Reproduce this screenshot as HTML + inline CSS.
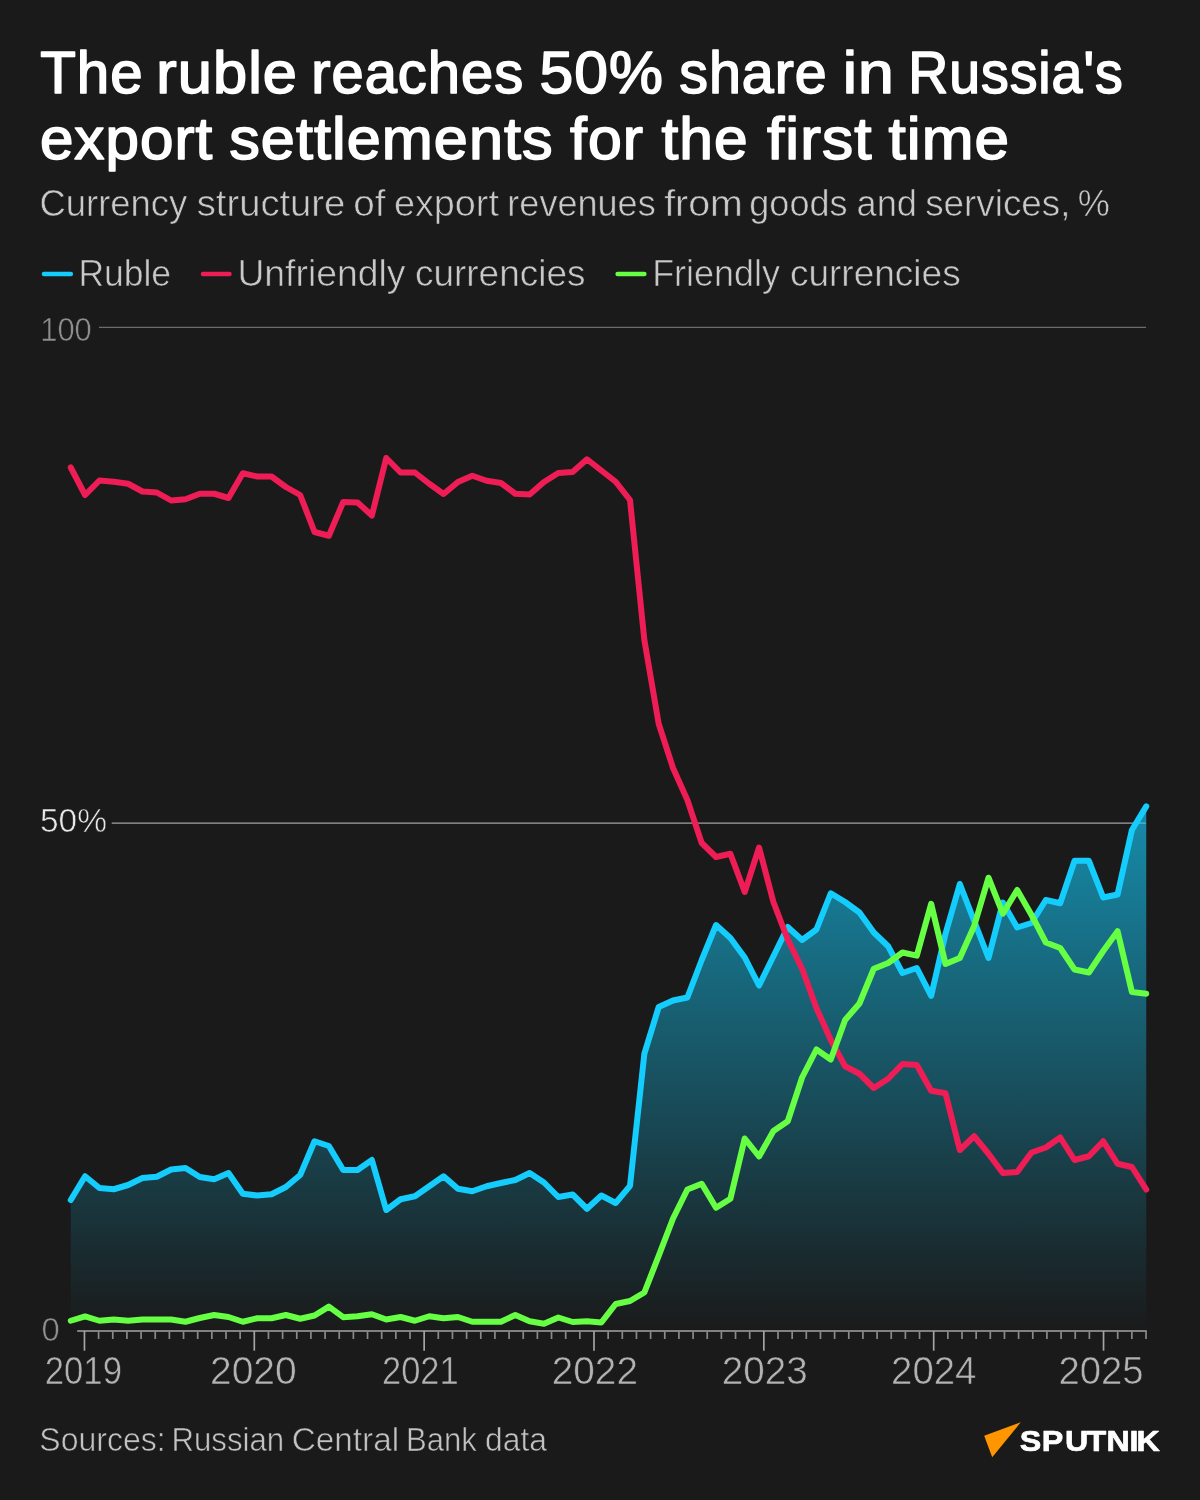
<!DOCTYPE html>
<html lang="en"><head><meta charset="utf-8"><title>The ruble reaches 50% share in Russia's export settlements</title>
<style>
html,body{margin:0;padding:0;background:#1a1a1a;}
body{width:1200px;height:1500px;overflow:hidden;font-family:"Liberation Sans",sans-serif;}
svg{display:block}
text{font-family:"Liberation Sans",sans-serif;}
.ln{fill:none;stroke-width:6;stroke-linejoin:round;stroke-linecap:round}
</style></head><body>
<svg width="1200" height="1500" viewBox="0 0 1200 1500">
<defs>
<linearGradient id="g" gradientUnits="userSpaceOnUse" x1="0" y1="805" x2="0" y2="1331">
<stop offset="0" stop-color="#14cdfd" stop-opacity="0.64"/>
<stop offset="1" stop-color="#14cdfd" stop-opacity="0"/>
</linearGradient>
</defs>
<rect width="1200" height="1500" fill="#1a1a1a"/>
<g stroke-width="4.5" stroke-linecap="round">
<line x1="44" y1="274" x2="70.8" y2="274" stroke="#14cdfd"/>
<line x1="203" y1="274" x2="229.5" y2="274" stroke="#ee1d56"/>
<line x1="617.6" y1="274" x2="644.4" y2="274" stroke="#66ff44"/>
</g>
<line x1="99" y1="327.4" x2="1146" y2="327.4" stroke="#6c6c6c" stroke-width="1.2"/>
<line x1="111.7" y1="823.15" x2="1146" y2="823.15" stroke="#a2a2a2" stroke-width="1.4"/>
<path d="M70.75,1200.00 L85.09,1176.25 L99.43,1188.00 L113.77,1189.25 L128.11,1185.00 L142.45,1178.00 L156.79,1176.75 L171.13,1169.50 L185.47,1168.00 L199.81,1177.00 L214.15,1179.25 L228.49,1173.00 L242.83,1193.75 L257.17,1195.50 L271.51,1194.25 L285.85,1187.00 L300.19,1175.00 L314.53,1141.25 L328.87,1146.00 L343.21,1170.00 L357.55,1170.00 L371.89,1160.00 L386.23,1210.00 L400.57,1199.25 L414.91,1196.25 L429.25,1186.25 L443.59,1176.25 L457.93,1188.75 L472.27,1191.25 L486.61,1186.25 L500.95,1183.00 L515.29,1180.00 L529.63,1173.00 L543.97,1182.50 L558.31,1197.00 L572.65,1194.50 L586.99,1208.75 L601.33,1195.50 L615.67,1203.00 L630.01,1185.80 L644.35,1053.75 L658.69,1007.00 L673.03,1000.50 L687.37,997.50 L701.71,960.00 L716.05,925.00 L730.39,938.00 L744.73,957.50 L759.07,985.50 L773.41,956.25 L787.75,927.00 L802.09,940.00 L816.43,929.50 L830.77,893.25 L845.11,902.00 L859.45,912.50 L873.79,932.50 L888.13,946.25 L902.47,973.00 L916.81,968.00 L931.15,995.90 L945.49,933.75 L959.83,884.00 L974.17,921.00 L988.51,958.00 L1002.85,902.60 L1017.19,927.50 L1031.53,923.00 L1045.87,900.00 L1060.21,903.25 L1074.55,860.80 L1088.89,860.80 L1103.23,897.50 L1117.57,894.50 L1131.91,830.00 L1146.25,806.40 L1146.25,1331 L70.75,1331 Z" fill="url(#g)"/>
<polyline class="ln" stroke="#14cdfd" points="70.75,1200.00 85.09,1176.25 99.43,1188.00 113.77,1189.25 128.11,1185.00 142.45,1178.00 156.79,1176.75 171.13,1169.50 185.47,1168.00 199.81,1177.00 214.15,1179.25 228.49,1173.00 242.83,1193.75 257.17,1195.50 271.51,1194.25 285.85,1187.00 300.19,1175.00 314.53,1141.25 328.87,1146.00 343.21,1170.00 357.55,1170.00 371.89,1160.00 386.23,1210.00 400.57,1199.25 414.91,1196.25 429.25,1186.25 443.59,1176.25 457.93,1188.75 472.27,1191.25 486.61,1186.25 500.95,1183.00 515.29,1180.00 529.63,1173.00 543.97,1182.50 558.31,1197.00 572.65,1194.50 586.99,1208.75 601.33,1195.50 615.67,1203.00 630.01,1185.80 644.35,1053.75 658.69,1007.00 673.03,1000.50 687.37,997.50 701.71,960.00 716.05,925.00 730.39,938.00 744.73,957.50 759.07,985.50 773.41,956.25 787.75,927.00 802.09,940.00 816.43,929.50 830.77,893.25 845.11,902.00 859.45,912.50 873.79,932.50 888.13,946.25 902.47,973.00 916.81,968.00 931.15,995.90 945.49,933.75 959.83,884.00 974.17,921.00 988.51,958.00 1002.85,902.60 1017.19,927.50 1031.53,923.00 1045.87,900.00 1060.21,903.25 1074.55,860.80 1088.89,860.80 1103.23,897.50 1117.57,894.50 1131.91,830.00 1146.25,806.40"/>
<polyline class="ln" stroke="#ee1d56" points="70.75,467.50 85.09,495.00 99.43,480.50 113.77,481.75 128.11,483.75 142.45,491.50 156.79,492.50 171.13,500.50 185.47,499.25 199.81,493.75 214.15,493.75 228.49,498.00 242.83,473.25 257.17,476.50 271.51,476.50 285.85,487.00 300.19,495.00 314.53,532.00 328.87,535.75 343.21,502.00 357.55,502.50 371.89,515.50 386.23,458.00 400.57,472.50 414.91,472.50 429.25,483.75 443.59,494.00 457.93,482.00 472.27,475.75 486.61,480.75 500.95,483.00 515.29,493.75 529.63,494.50 543.97,482.00 558.31,473.00 572.65,472.00 586.99,459.25 601.33,470.50 615.67,481.75 630.01,500.00 644.35,640.00 658.69,723.75 673.03,768.00 687.37,800.00 701.71,843.00 716.05,857.00 730.39,853.75 744.73,892.00 759.07,847.50 773.41,902.00 787.75,939.50 802.09,968.75 816.43,1008.00 830.77,1040.00 845.11,1066.25 859.45,1073.75 873.79,1088.00 888.13,1078.75 902.47,1064.00 916.81,1065.00 931.15,1090.75 945.49,1093.25 959.83,1150.00 974.17,1136.25 988.51,1153.75 1002.85,1173.00 1017.19,1172.00 1031.53,1152.50 1045.87,1147.50 1060.21,1137.50 1074.55,1160.00 1088.89,1156.25 1103.23,1141.25 1117.57,1163.75 1131.91,1167.00 1146.25,1189.50"/>
<polyline class="ln" stroke="#66ff44" points="70.75,1320.75 85.09,1316.40 99.43,1320.75 113.77,1319.50 128.11,1320.75 142.45,1319.50 156.79,1319.50 171.13,1319.50 185.47,1321.75 199.81,1318.00 214.15,1315.00 228.49,1317.00 242.83,1321.75 257.17,1318.25 271.51,1318.25 285.85,1315.00 300.19,1318.75 314.53,1315.50 328.87,1306.60 343.21,1317.20 357.55,1316.25 371.89,1314.25 386.23,1319.50 400.57,1317.00 414.91,1320.75 429.25,1316.25 443.59,1318.25 457.93,1317.00 472.27,1321.75 486.61,1321.75 500.95,1321.75 515.29,1315.00 529.63,1321.25 543.97,1323.75 558.31,1317.50 572.65,1322.00 586.99,1321.25 601.33,1322.50 615.67,1304.00 630.01,1301.00 644.35,1292.50 658.69,1255.80 673.03,1218.50 687.37,1189.50 701.71,1183.70 716.05,1207.70 730.39,1198.70 744.73,1138.50 759.07,1156.50 773.41,1131.00 787.75,1121.25 802.09,1077.50 816.43,1049.50 830.77,1059.50 845.11,1020.00 859.45,1003.50 873.79,968.75 888.13,963.00 902.47,952.50 916.81,955.60 931.15,903.80 945.49,964.00 959.83,958.00 974.17,926.00 988.51,877.70 1002.85,913.75 1017.19,890.00 1031.53,915.00 1045.87,942.50 1060.21,948.00 1074.55,969.50 1088.89,972.50 1103.23,951.00 1117.57,931.20 1131.91,992.00 1146.25,993.75"/>
<g stroke="#a4a4a4" stroke-width="1.7">
<line x1="77.2" y1="1331" x2="1146.8" y2="1331"/>
<line x1="84.45" y1="1331" x2="84.45" y2="1350.7"/><line x1="98.60" y1="1331" x2="98.60" y2="1339" stroke="#8a8a8a"/><line x1="112.76" y1="1331" x2="112.76" y2="1339" stroke="#8a8a8a"/><line x1="126.91" y1="1331" x2="126.91" y2="1339" stroke="#8a8a8a"/><line x1="141.07" y1="1331" x2="141.07" y2="1339" stroke="#8a8a8a"/><line x1="155.22" y1="1331" x2="155.22" y2="1339" stroke="#8a8a8a"/><line x1="169.37" y1="1331" x2="169.37" y2="1339" stroke="#8a8a8a"/><line x1="183.53" y1="1331" x2="183.53" y2="1339" stroke="#8a8a8a"/><line x1="197.68" y1="1331" x2="197.68" y2="1339" stroke="#8a8a8a"/><line x1="211.84" y1="1331" x2="211.84" y2="1339" stroke="#8a8a8a"/><line x1="225.99" y1="1331" x2="225.99" y2="1339" stroke="#8a8a8a"/><line x1="240.14" y1="1331" x2="240.14" y2="1339" stroke="#8a8a8a"/><line x1="254.30" y1="1331" x2="254.30" y2="1350.7"/><line x1="268.45" y1="1331" x2="268.45" y2="1339" stroke="#8a8a8a"/><line x1="282.61" y1="1331" x2="282.61" y2="1339" stroke="#8a8a8a"/><line x1="296.76" y1="1331" x2="296.76" y2="1339" stroke="#8a8a8a"/><line x1="310.91" y1="1331" x2="310.91" y2="1339" stroke="#8a8a8a"/><line x1="325.07" y1="1331" x2="325.07" y2="1339" stroke="#8a8a8a"/><line x1="339.22" y1="1331" x2="339.22" y2="1339" stroke="#8a8a8a"/><line x1="353.38" y1="1331" x2="353.38" y2="1339" stroke="#8a8a8a"/><line x1="367.53" y1="1331" x2="367.53" y2="1339" stroke="#8a8a8a"/><line x1="381.68" y1="1331" x2="381.68" y2="1339" stroke="#8a8a8a"/><line x1="395.84" y1="1331" x2="395.84" y2="1339" stroke="#8a8a8a"/><line x1="409.99" y1="1331" x2="409.99" y2="1339" stroke="#8a8a8a"/><line x1="424.15" y1="1331" x2="424.15" y2="1350.7"/><line x1="438.30" y1="1331" x2="438.30" y2="1339" stroke="#8a8a8a"/><line x1="452.45" y1="1331" x2="452.45" y2="1339" stroke="#8a8a8a"/><line x1="466.61" y1="1331" x2="466.61" y2="1339" stroke="#8a8a8a"/><line x1="480.76" y1="1331" x2="480.76" y2="1339" stroke="#8a8a8a"/><line x1="494.92" y1="1331" x2="494.92" y2="1339" stroke="#8a8a8a"/><line x1="509.07" y1="1331" x2="509.07" y2="1339" stroke="#8a8a8a"/><line x1="523.22" y1="1331" x2="523.22" y2="1339" stroke="#8a8a8a"/><line x1="537.38" y1="1331" x2="537.38" y2="1339" stroke="#8a8a8a"/><line x1="551.53" y1="1331" x2="551.53" y2="1339" stroke="#8a8a8a"/><line x1="565.69" y1="1331" x2="565.69" y2="1339" stroke="#8a8a8a"/><line x1="579.84" y1="1331" x2="579.84" y2="1339" stroke="#8a8a8a"/><line x1="593.99" y1="1331" x2="593.99" y2="1350.7"/><line x1="608.15" y1="1331" x2="608.15" y2="1339" stroke="#8a8a8a"/><line x1="622.30" y1="1331" x2="622.30" y2="1339" stroke="#8a8a8a"/><line x1="636.46" y1="1331" x2="636.46" y2="1339" stroke="#8a8a8a"/><line x1="650.61" y1="1331" x2="650.61" y2="1339" stroke="#8a8a8a"/><line x1="664.76" y1="1331" x2="664.76" y2="1339" stroke="#8a8a8a"/><line x1="678.92" y1="1331" x2="678.92" y2="1339" stroke="#8a8a8a"/><line x1="693.07" y1="1331" x2="693.07" y2="1339" stroke="#8a8a8a"/><line x1="707.23" y1="1331" x2="707.23" y2="1339" stroke="#8a8a8a"/><line x1="721.38" y1="1331" x2="721.38" y2="1339" stroke="#8a8a8a"/><line x1="735.53" y1="1331" x2="735.53" y2="1339" stroke="#8a8a8a"/><line x1="749.69" y1="1331" x2="749.69" y2="1339" stroke="#8a8a8a"/><line x1="763.84" y1="1331" x2="763.84" y2="1350.7"/><line x1="778.00" y1="1331" x2="778.00" y2="1339" stroke="#8a8a8a"/><line x1="792.15" y1="1331" x2="792.15" y2="1339" stroke="#8a8a8a"/><line x1="806.30" y1="1331" x2="806.30" y2="1339" stroke="#8a8a8a"/><line x1="820.46" y1="1331" x2="820.46" y2="1339" stroke="#8a8a8a"/><line x1="834.61" y1="1331" x2="834.61" y2="1339" stroke="#8a8a8a"/><line x1="848.77" y1="1331" x2="848.77" y2="1339" stroke="#8a8a8a"/><line x1="862.92" y1="1331" x2="862.92" y2="1339" stroke="#8a8a8a"/><line x1="877.07" y1="1331" x2="877.07" y2="1339" stroke="#8a8a8a"/><line x1="891.23" y1="1331" x2="891.23" y2="1339" stroke="#8a8a8a"/><line x1="905.38" y1="1331" x2="905.38" y2="1339" stroke="#8a8a8a"/><line x1="919.54" y1="1331" x2="919.54" y2="1339" stroke="#8a8a8a"/><line x1="933.69" y1="1331" x2="933.69" y2="1350.7"/><line x1="947.84" y1="1331" x2="947.84" y2="1339" stroke="#8a8a8a"/><line x1="962.00" y1="1331" x2="962.00" y2="1339" stroke="#8a8a8a"/><line x1="976.15" y1="1331" x2="976.15" y2="1339" stroke="#8a8a8a"/><line x1="990.31" y1="1331" x2="990.31" y2="1339" stroke="#8a8a8a"/><line x1="1004.46" y1="1331" x2="1004.46" y2="1339" stroke="#8a8a8a"/><line x1="1018.61" y1="1331" x2="1018.61" y2="1339" stroke="#8a8a8a"/><line x1="1032.77" y1="1331" x2="1032.77" y2="1339" stroke="#8a8a8a"/><line x1="1046.92" y1="1331" x2="1046.92" y2="1339" stroke="#8a8a8a"/><line x1="1061.08" y1="1331" x2="1061.08" y2="1339" stroke="#8a8a8a"/><line x1="1075.23" y1="1331" x2="1075.23" y2="1339" stroke="#8a8a8a"/><line x1="1089.38" y1="1331" x2="1089.38" y2="1339" stroke="#8a8a8a"/><line x1="1103.54" y1="1331" x2="1103.54" y2="1350.7"/><line x1="1117.69" y1="1331" x2="1117.69" y2="1339" stroke="#8a8a8a"/><line x1="1131.85" y1="1331" x2="1131.85" y2="1339" stroke="#8a8a8a"/><line x1="1146.00" y1="1331" x2="1146.00" y2="1339" stroke="#8a8a8a"/>
</g>
<text x="40.2" y="93.2" font-size="58.5" fill="#fff" textLength="103.4" lengthAdjust="spacingAndGlyphs" stroke="#fff" stroke-width="1.6" stroke-linejoin="round" letter-spacing="1.0">The</text>
<text x="156.35" y="93.2" font-size="58.5" fill="#fff" textLength="141.63" lengthAdjust="spacingAndGlyphs" stroke="#fff" stroke-width="1.6" stroke-linejoin="round" letter-spacing="1.0">ruble</text>
<text x="311.23" y="93.2" font-size="58.5" fill="#fff" textLength="212.92" lengthAdjust="spacingAndGlyphs" stroke="#fff" stroke-width="1.6" stroke-linejoin="round" letter-spacing="1.0">reaches</text>
<text x="539.45" y="93.2" font-size="58.5" fill="#fff" textLength="124.48" lengthAdjust="spacingAndGlyphs" stroke="#fff" stroke-width="1.6" stroke-linejoin="round" letter-spacing="1.0">50%</text>
<text x="679.26" y="93.2" font-size="58.5" fill="#fff" textLength="148.53" lengthAdjust="spacingAndGlyphs" stroke="#fff" stroke-width="1.6" stroke-linejoin="round" letter-spacing="1.0">share</text>
<text x="842.7" y="93.2" font-size="58.5" fill="#fff" textLength="52.24" lengthAdjust="spacingAndGlyphs" stroke="#fff" stroke-width="1.6" stroke-linejoin="round" letter-spacing="1.0">in</text>
<text x="908.21" y="93.2" font-size="58.5" fill="#fff" textLength="215.41" lengthAdjust="spacingAndGlyphs" stroke="#fff" stroke-width="1.6" stroke-linejoin="round" letter-spacing="1.0">Russia's</text>
<text x="39.9" y="159.2" font-size="58.5" fill="#fff" textLength="173.31" lengthAdjust="spacingAndGlyphs" stroke="#fff" stroke-width="1.6" stroke-linejoin="round" letter-spacing="1.0">export</text>
<text x="229.22" y="159.2" font-size="58.5" fill="#fff" textLength="324.49" lengthAdjust="spacingAndGlyphs" stroke="#fff" stroke-width="1.6" stroke-linejoin="round" letter-spacing="1.0">settlements</text>
<text x="570" y="159.2" font-size="58.5" fill="#fff" textLength="74.07" lengthAdjust="spacingAndGlyphs" stroke="#fff" stroke-width="1.6" stroke-linejoin="round" letter-spacing="1.0">for</text>
<text x="661.5" y="159.2" font-size="58.5" fill="#fff" textLength="87.23" lengthAdjust="spacingAndGlyphs" stroke="#fff" stroke-width="1.6" stroke-linejoin="round" letter-spacing="1.0">the</text>
<text x="767" y="159.2" font-size="58.5" fill="#fff" textLength="105.52" lengthAdjust="spacingAndGlyphs" stroke="#fff" stroke-width="1.6" stroke-linejoin="round" letter-spacing="1.0">first</text>
<text x="888.5" y="159.2" font-size="58.5" fill="#fff" textLength="121.65" lengthAdjust="spacingAndGlyphs" stroke="#fff" stroke-width="1.6" stroke-linejoin="round" letter-spacing="1.0">time</text>
<text x="39.48" y="216.4" font-size="37" fill="#c8c8c8" textLength="147.82" lengthAdjust="spacingAndGlyphs" stroke="#1a1a1a" stroke-width="0.6">Currency</text>
<text x="196.75" y="216.4" font-size="37" fill="#c8c8c8" textLength="148.55" lengthAdjust="spacingAndGlyphs" stroke="#1a1a1a" stroke-width="0.6">structure</text>
<text x="353.17" y="216.4" font-size="37" fill="#c8c8c8" textLength="32.2" lengthAdjust="spacingAndGlyphs" stroke="#1a1a1a" stroke-width="0.6">of</text>
<text x="393.91" y="216.4" font-size="37" fill="#c8c8c8" textLength="104.99" lengthAdjust="spacingAndGlyphs" stroke="#1a1a1a" stroke-width="0.6">export</text>
<text x="507.32" y="216.4" font-size="37" fill="#c8c8c8" textLength="148.36" lengthAdjust="spacingAndGlyphs" stroke="#1a1a1a" stroke-width="0.6">revenues</text>
<text x="664.2" y="216.4" font-size="37" fill="#c8c8c8" textLength="78.72" lengthAdjust="spacingAndGlyphs" stroke="#1a1a1a" stroke-width="0.6">from</text>
<text x="749.29" y="216.4" font-size="37" fill="#c8c8c8" textLength="98.23" lengthAdjust="spacingAndGlyphs" stroke="#1a1a1a" stroke-width="0.6">goods</text>
<text x="856.59" y="216.4" font-size="37" fill="#c8c8c8" textLength="60.39" lengthAdjust="spacingAndGlyphs" stroke="#1a1a1a" stroke-width="0.6">and</text>
<text x="925.21" y="216.4" font-size="37" fill="#c8c8c8" textLength="145.21" lengthAdjust="spacingAndGlyphs" stroke="#1a1a1a" stroke-width="0.6">services,</text>
<text x="1077.84" y="216.4" font-size="37" fill="#c8c8c8" textLength="32.08" lengthAdjust="spacingAndGlyphs" stroke="#1a1a1a" stroke-width="0.6">%</text>
<text x="78.38" y="286.4" font-size="37" fill="#c8c8c8" textLength="92.67" lengthAdjust="spacingAndGlyphs" stroke="#1a1a1a" stroke-width="0.6">Ruble</text>
<text x="237.42" y="286.4" font-size="37" fill="#c8c8c8" textLength="167.96" lengthAdjust="spacingAndGlyphs" stroke="#1a1a1a" stroke-width="0.6">Unfriendly</text>
<text x="415" y="286.4" font-size="37" fill="#c8c8c8" textLength="170.43" lengthAdjust="spacingAndGlyphs" stroke="#1a1a1a" stroke-width="0.6">currencies</text>
<text x="652.15" y="286.4" font-size="37" fill="#c8c8c8" textLength="127.75" lengthAdjust="spacingAndGlyphs" stroke="#1a1a1a" stroke-width="0.6">Friendly</text>
<text x="789.95" y="286.4" font-size="37" fill="#c8c8c8" textLength="170.74" lengthAdjust="spacingAndGlyphs" stroke="#1a1a1a" stroke-width="0.6">currencies</text>
<text x="40.18" y="341.3" font-size="33.8" fill="#8e8e8e" textLength="51.62" lengthAdjust="spacingAndGlyphs" stroke="#1a1a1a" stroke-width="0.6">100</text>
<text x="39.97" y="832.2" font-size="33.8" fill="#e8e8e8" textLength="66.97" lengthAdjust="spacingAndGlyphs" stroke="#1a1a1a" stroke-width="0.6">50%</text>
<text x="41.54" y="1341.3" font-size="33.8" fill="#8e8e8e" textLength="18.26" lengthAdjust="spacingAndGlyphs" stroke="#1a1a1a" stroke-width="0.6">0</text>
<text x="44.65" y="1383.8" font-size="38.2" fill="#b2b2b2" textLength="77.35" lengthAdjust="spacingAndGlyphs" stroke="#1a1a1a" stroke-width="0.6">2019</text>
<text x="210" y="1383.8" font-size="38.2" fill="#b2b2b2" textLength="86.74" lengthAdjust="spacingAndGlyphs" stroke="#1a1a1a" stroke-width="0.6">2020</text>
<text x="381.97" y="1383.8" font-size="38.2" fill="#b2b2b2" textLength="76.72" lengthAdjust="spacingAndGlyphs" stroke="#1a1a1a" stroke-width="0.6">2021</text>
<text x="551.72" y="1383.8" font-size="38.2" fill="#b2b2b2" textLength="86.22" lengthAdjust="spacingAndGlyphs" stroke="#1a1a1a" stroke-width="0.6">2022</text>
<text x="721.72" y="1383.8" font-size="38.2" fill="#b2b2b2" textLength="85.95" lengthAdjust="spacingAndGlyphs" stroke="#1a1a1a" stroke-width="0.6">2023</text>
<text x="891.04" y="1383.8" font-size="38.2" fill="#b2b2b2" textLength="85.42" lengthAdjust="spacingAndGlyphs" stroke="#1a1a1a" stroke-width="0.6">2024</text>
<text x="1058.44" y="1383.8" font-size="38.2" fill="#b2b2b2" textLength="85.22" lengthAdjust="spacingAndGlyphs" stroke="#1a1a1a" stroke-width="0.6">2025</text>
<text x="39.33" y="1451.2" font-size="33.4" fill="#c2c2c2" textLength="126.31" lengthAdjust="spacingAndGlyphs" stroke="#1a1a1a" stroke-width="0.6">Sources:</text>
<text x="171.45" y="1451.2" font-size="33.4" fill="#c2c2c2" textLength="112.79" lengthAdjust="spacingAndGlyphs" stroke="#1a1a1a" stroke-width="0.6">Russian</text>
<text x="291.75" y="1451.2" font-size="33.4" fill="#c2c2c2" textLength="107.38" lengthAdjust="spacingAndGlyphs" stroke="#1a1a1a" stroke-width="0.6">Central</text>
<text x="405.96" y="1451.2" font-size="33.4" fill="#c2c2c2" textLength="70.86" lengthAdjust="spacingAndGlyphs" stroke="#1a1a1a" stroke-width="0.6">Bank</text>
<text x="485.08" y="1451.2" font-size="33.4" fill="#c2c2c2" textLength="61.9" lengthAdjust="spacingAndGlyphs" stroke="#1a1a1a" stroke-width="0.6">data</text>
<polygon points="984.2,1435.8 1020.8,1422.2 992.2,1457.2" fill="#ff9600"/>
<text transform="translate(1021,1450.6) scale(1.09,1)" x="-1.12 18.93 40.31 59.99 78.54 99.63 105.96" y="0" font-size="29.6" font-weight="700" fill="#fff" stroke="#fff" stroke-width="0.7" stroke-linejoin="round">SPUTNIK</text>
</svg>
</body></html>
